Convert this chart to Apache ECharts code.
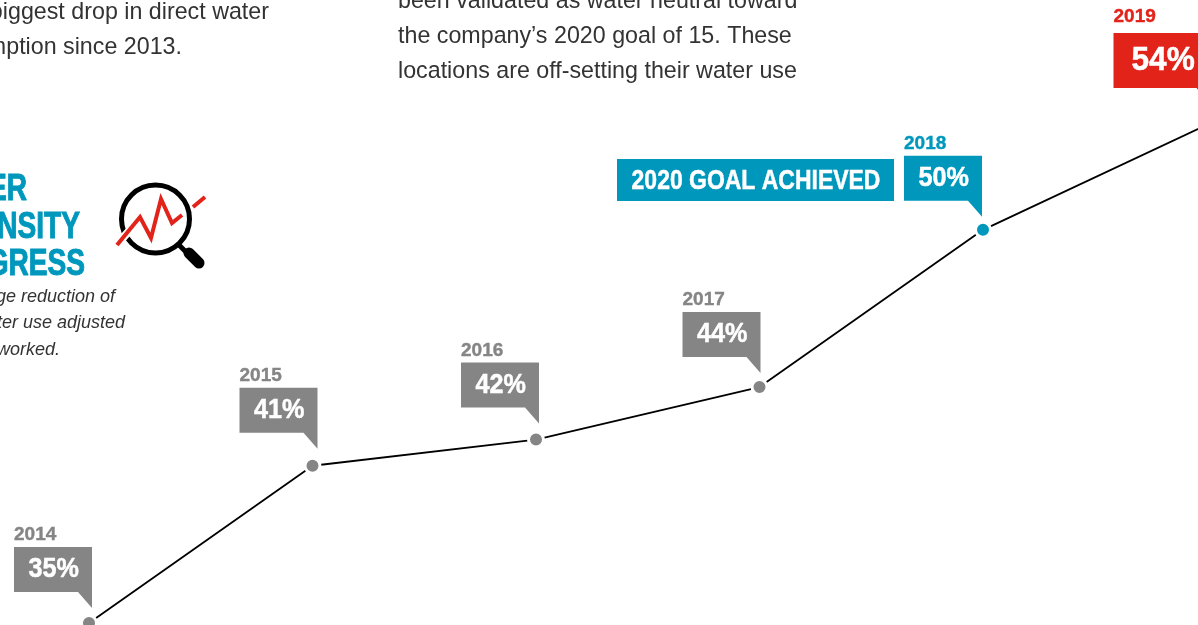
<!DOCTYPE html>
<html><head><meta charset="utf-8">
<style>html,body{margin:0;padding:0;background:#fff;overflow:hidden}#c{width:1198px;height:625px}</style>
<script src="https://cdn.jsdelivr.net/npm/echarts@6/dist/echarts.min.js"></script>
</head><body><div id="c"></div>
<script>
const years = ['2014','2015','2016','2017','2018','2019'];
const reduction = [35,41,42,44,50,54];
const tickLabels = ['35%','41%','42%','44%','50%','54%'];

const GREY='#858585', BLUE='#0097bd', RED='#e2231a', INK='#333333';
const BOLD='"Liberation Sans",sans-serif';
const BODY='"Liberation Sans",sans-serif';
const colorOf = i => i===5 ? RED : i===4 ? BLUE : GREY;

// callout geometry, relative to the data point (style only)
const shiftX=[3,5,3,1,-1,4];
const shiftY=[31,33,32,30,29,37];
function callout(params,api){
  const i=api.value(0), p=api.coord([i,api.value(1)]);
  const big=i===5, c=colorOf(i);
  const r=p[0]+shiftX[i], w=big?97:78, h=big?55:45;
  const bot=p[1]-shiftY[i], top=bot-h, l=r-w;
  return {type:'group',children:[
    {type:'polygon',shape:{points:[[l,top],[r,top],[r,bot+16],[r-14,bot],[l,bot]]},style:{fill:c}},
    {type:'text',x:l+(big?18:14.5),y:top+h/2,scaleX:big?0.93:0.9,
      style:{text:tickLabels[i],verticalAlign:'middle',align:'left',font:'bold '+(big?34:28)+'px '+BOLD,fill:'#fff',stroke:'#fff',lineWidth:0.5}},
    {type:'text',x:l,y:top-(big?16:12),scaleX:1,
      style:{text:years[i],verticalAlign:'middle',align:'left',font:'bold 19px '+BOLD,fill:c,stroke:c,lineWidth:0.4}}
  ]};
}

const para=(text,x,y,align)=>({type:'text',x,y,style:{text,align:align||'left',verticalAlign:'middle',font:'23.25px '+BODY,fill:INK}});
const note=(text,x,y)=>({type:'text',x,y,style:{text,align:'right',verticalAlign:'middle',font:'italic 18px '+BODY,fill:INK}});
const head=(text,x,y)=>({type:'text',x,y,scaleX:0.78,style:{text,align:'right',verticalAlign:'middle',font:'bold 36px '+BOLD,fill:BLUE,stroke:BLUE,lineWidth:1}});

const chart=echarts.init(document.getElementById('c'));
chart.setOption({
  animation:false,
  backgroundColor:'#fff',
  grid:{left:89,width:1117.5,top:125,height:498,outerBoundsMode:'none'},
  xAxis:{type:'category',data:years,boundaryGap:false,show:false},
  yAxis:{type:'value',min:35,max:54,show:false},
  series:[
    {type:'line',data:reduction.map((v,i)=>({value:v,itemStyle:{color:colorOf(i)}})),
     clip:false,symbol:'circle',symbolSize:15,showSymbol:true,
     lineStyle:{color:'#000',width:1.8},
     itemStyle:{borderColor:'#fff',borderWidth:3},z:2},
    {type:'custom',data:reduction.map((v,i)=>[i,v]),encode:{x:0,y:1},renderItem:callout,clip:false,z:3,silent:true}
  ],
  graphic:[
    para('the biggest drop in direct water',269,13,'right'),
    para('consumption since 2013.',182,48,'right'),
    para('been validated as water neutral toward',398,2,'left'),
    para('the company\u2019s 2020 goal of 15. These',398,37,'left'),
    para('locations are off-setting their water use',398,72,'left'),
    head('WATER',27,190),head('INTENSITY',80,228),head('PROGRESS',85,265),
    note('percentage reduction of',115,297),note('direct water use adjusted',125,323),note('for hours worked.',60,350),
    {type:'rect',shape:{x:617,y:159,width:277,height:42},style:{fill:BLUE}},
    {type:'text',x:756,y:181,scaleX:0.82,style:{text:'2020 GOAL ACHIEVED',align:'center',verticalAlign:'middle',font:'bold 28px '+BOLD,fill:'#fff',stroke:'#fff',lineWidth:0.5}},
    // magnifier icon
    {type:'circle',shape:{cx:155.5,cy:219,r:34},style:{fill:'none',stroke:'#000',lineWidth:5}},
    {type:'line',shape:{x1:189,y1:253,x2:199,y2:263},style:{stroke:'#000',lineWidth:11,lineCap:'round'}},
    {type:'line',shape:{x1:178,y1:244,x2:188,y2:254},style:{stroke:'#000',lineWidth:5}},
    {type:'line',shape:{x1:120,y1:241,x2:130,y2:230},style:{stroke:'#fff',lineWidth:8}},
    {type:'polyline',shape:{points:[[117,245],[140,217],[151,238],[161,199],[172,223],[182,215]]},style:{fill:'none',stroke:RED,lineWidth:4}},
    {type:'line',shape:{x1:193,y1:207,x2:205,y2:197},style:{stroke:RED,lineWidth:4}}
  ]
});
</script></body></html>
